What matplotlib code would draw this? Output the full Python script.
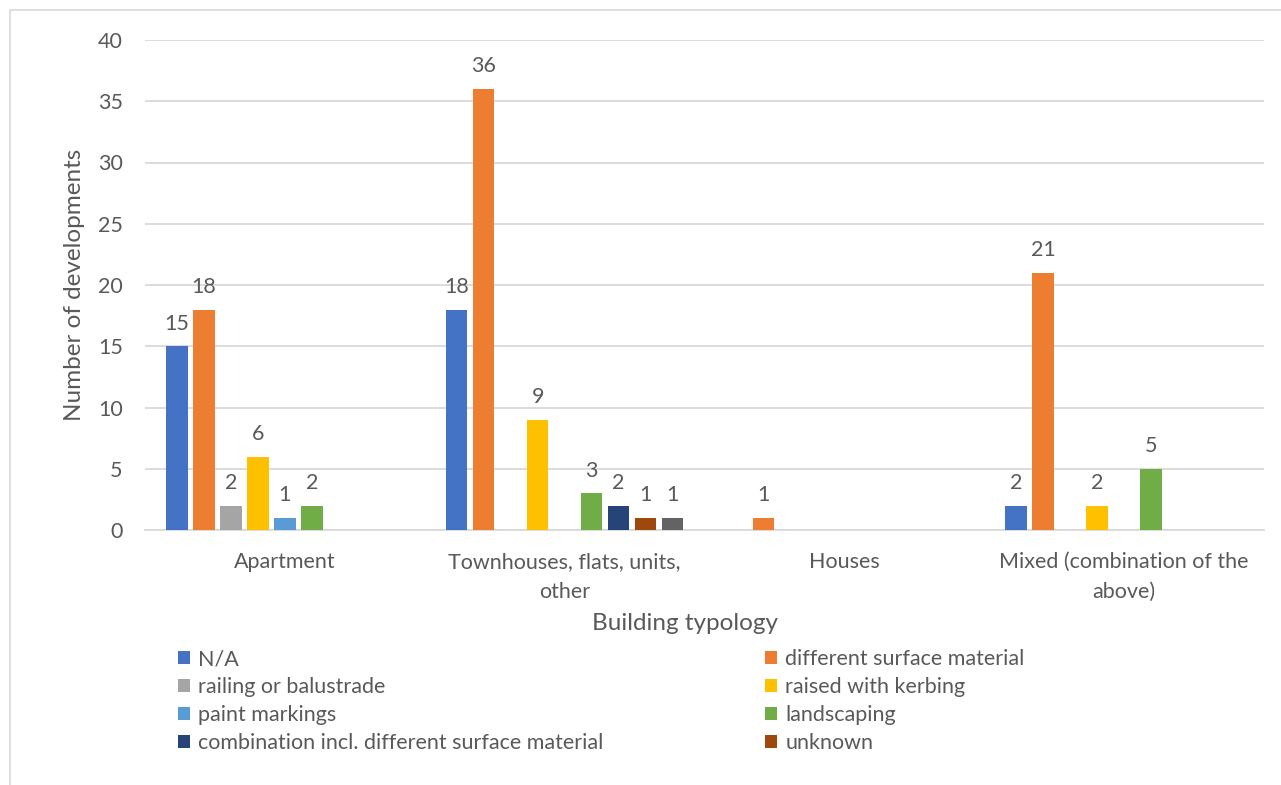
import matplotlib
matplotlib.use("Agg")
import matplotlib.pyplot as plt
from matplotlib.patches import Rectangle, Patch
import numpy as np

plt.rcParams['font.family'] = ['Lato', 'DejaVu Sans']

categories = ["Apartment", "Townhouses, flats, units,\nother", "Houses",
              "Mixed (combination of the\nabove)"]
series_names = ["N/A", "different surface material", "railing or balustrade",
                "raised with kerbing", "paint markings", "landscaping",
                "combination incl. different surface material", "unknown", "other"]
series_colors = ["#4472C4", "#ED7D31", "#A5A5A5", "#FFC000", "#5B9BD5",
                 "#70AD47", "#264478", "#9E480E", "#636363"]

na_vals          = [15, 18, 0, 2]
surface_vals     = [18, 36, 1, 21]
railing_vals     = [2, 0, 0, 0]
raised_vals      = [6, 9, 0, 2]
paint_vals       = [1, 0, 0, 0]
landscaping_vals = [2, 3, 0, 5]
combination_vals = [0, 2, 0, 0]
unknown_vals     = [0, 1, 0, 0]
other_vals       = [0, 1, 0, 0]

series_values = [na_vals, surface_vals, railing_vals, raised_vals, paint_vals,
                 landscaping_vals, combination_vals, unknown_vals, other_vals]

yticks = [0, 5, 10, 15, 20, 25, 30, 35, 40]

TEXT = "#595959"
GRID = "#D9D9D9"
FS = 15.5
FS_TITLE = 17.5

W, H = 1281, 785
fig = plt.figure(figsize=(W / 100, H / 100), dpi=100)
fig.patches.append(Rectangle((10 / W, -0.01), 1.02, 1 - 10 / H + 0.01,
                             transform=fig.transFigure, fill=False,
                             edgecolor=GRID, linewidth=1.2))

ax = fig.add_axes([145 / W, 1 - 530 / H, (1264 - 145) / W, (530 - 40) / H])

x = np.arange(len(categories))
slot = 27 / 280
bar_w = 21.5 / 280
n = len(series_values)
handles = []
for j, (name, vals, col) in enumerate(zip(series_names, series_values, series_colors)):
    pos = x + (j - (n - 1) / 2) * slot
    heights = np.array(vals, dtype=float)
    mask = heights > 0
    bars = ax.bar(pos[mask], heights[mask], width=bar_w, color=col, zorder=3)
    for b, v in zip(bars, heights[mask]):
        ax.annotate(f"{int(v)}", (b.get_x() + b.get_width() / 2, v),
                    xytext=(0, 12), textcoords="offset points",
                    ha="center", va="baseline", fontsize=FS, color=TEXT)
    handles.append(Patch(facecolor=col, label=name))

ax.set_xlim(-0.5, len(categories) - 0.5)
ax.set_ylim(0, 40)
ax.set_yticks(yticks)
ax.set_xticks(x)
ax.set_xticklabels(categories, fontsize=FS, color=TEXT, linespacing=1.62)
ax.tick_params(axis="y", length=0, pad=16, labelsize=FS, labelcolor=TEXT)
ax.tick_params(axis="x", length=0, pad=16)
ax.yaxis.grid(True, color=GRID, linewidth=1.3, zorder=0)
for s in ["top", "right", "left"]:
    ax.spines[s].set_visible(False)
ax.spines["bottom"].set_color(GRID)
ax.spines["bottom"].set_linewidth(1.3)
ax.spines["bottom"].set_zorder(1)

fig.text(75 / W, 1 - 285 / H, "Number of developments", rotation=90,
         ha="center", va="center", fontsize=FS_TITLE, color=TEXT)
fig.text(685 / W, 1 - 624 / H, "Building typology",
         ha="center", va="center", fontsize=FS_TITLE, color=TEXT)

left_idx = [0, 2, 4, 6]
right_idx = [1, 3, 5, 7]
leg_kw = dict(loc="upper left", frameon=False, fontsize=FS, labelcolor=TEXT,
              handlelength=0.58, handleheight=0.58, handletextpad=0.36,
              labelspacing=0.37, borderpad=0, borderaxespad=0)
fig.legend([handles[i] for i in left_idx], [series_names[i] for i in left_idx],
           bbox_to_anchor=(178 / W, 1 - 649 / H), **leg_kw)
fig.legend([handles[i] for i in right_idx], [series_names[i] for i in right_idx],
           bbox_to_anchor=(765 / W, 1 - 649 / H), **leg_kw)

fig.savefig("out.png", dpi=100, facecolor="white")
